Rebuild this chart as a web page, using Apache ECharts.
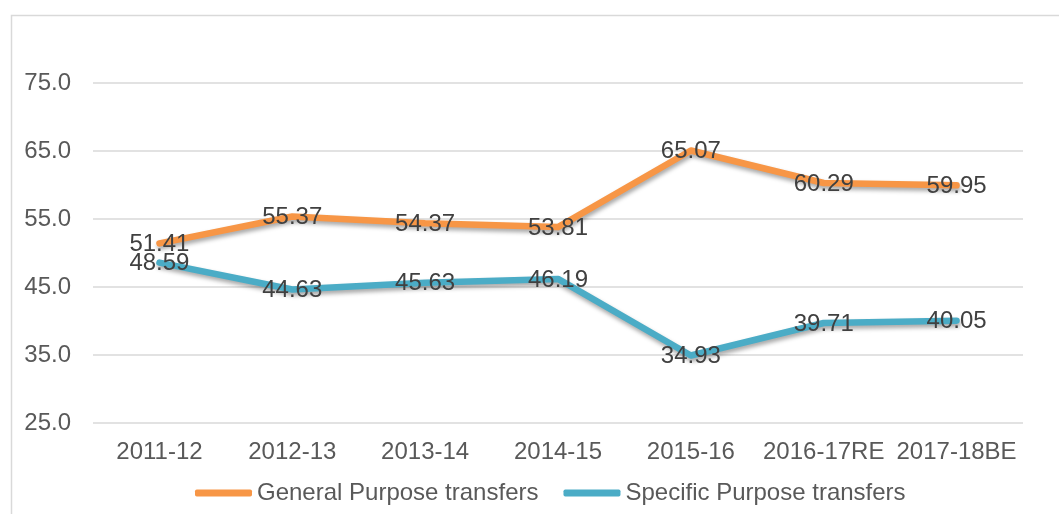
<!DOCTYPE html>
<html>
<head>
    <meta charset="UTF-8">
    <title>Transfers trend</title>
    <script src="https://cdn.jsdelivr.net/npm/echarts/dist/echarts.min.js"></script>
    <style>
    html, body { margin: 0; padding: 0; background: #fff; }
    #chart { width: 1059px; height: 514px; }
  </style>
</head>
<body>
<div id="chart"></div>
<script>
    // data
    var years = ['2011-12', '2012-13', '2013-14', '2014-15', '2015-16', '2016-17RE', '2017-18BE'];
    var generalPurpose = [51.41, 55.37, 54.37, 53.81, 65.07, 60.29, 59.95];
    var specificPurpose = [48.59, 44.63, 45.63, 46.19, 34.93, 39.71, 40.05];
    var seriesNames = ['General Purpose transfers', 'Specific Purpose transfers'];

    var font = 'Liberation Sans, Arial, sans-serif';
    var myChart = echarts.init(document.getElementById('chart'));

    function lineSeries(name, data, color) {
      return {
        name: name,
        type: 'line',
        data: data,
        symbol: 'circle',
        symbolSize: 2,
        showAllSymbol: true,
        itemStyle: { color: color },
        lineStyle: {
          width: 6.5,
          color: color,
          cap: 'round',
          join: 'round',
          shadowColor: 'rgba(0,0,0,0.35)',
          shadowBlur: 4,
          shadowOffsetX: 1,
          shadowOffsetY: 3
        },
        label: {
          show: true,
          position: 'inside',
          offset: [0, 1],
          color: '#404040',
          fontFamily: font,
          fontSize: 24,
          formatter: function(p) { return p.value.toFixed(2); }
        }
      };
    }

    var option = {
      animation: false,
      graphic: [{
        type: 'rect',
        shape: { x: 11.5, y: 15.5, width: 1100, height: 600 },
        style: { fill: 'none', stroke: '#d9d9d9', lineWidth: 1.5 },
        silent: true
      }],
      grid: { left: 93, right: 36, top: 83, bottom: 91 },
      legend: {
        data: seriesNames,
        left: 190,
        top: 476,
        icon: 'roundRect',
        itemWidth: 57,
        itemHeight: 7,
        itemGap: 25,
        textStyle: { color: '#595959', fontFamily: font, fontSize: 24 }
      },
      xAxis: {
        type: 'category',
        data: years,
        boundaryGap: true,
        axisLine: { show: false },
        axisTick: { show: false },
        axisLabel: { color: '#595959', fontFamily: font, fontSize: 24, margin: 17, interval: 0 }
      },
      yAxis: {
        type: 'value',
        min: 25,
        max: 75,
        interval: 10,
        axisLine: { show: false },
        axisTick: { show: false },
        splitLine: { lineStyle: { color: '#d9d9d9', width: 1.5 } },
        axisLabel: {
          color: '#595959', fontFamily: font, fontSize: 24, margin: 22,
          formatter: function(v) { return v.toFixed(1); }
        }
      },
      series: [
        lineSeries(seriesNames[0], generalPurpose, '#F79646'),
        lineSeries(seriesNames[1], specificPurpose, '#4BACC6')
      ]
    };
    myChart.setOption(option);
  </script>
</body>
</html>
